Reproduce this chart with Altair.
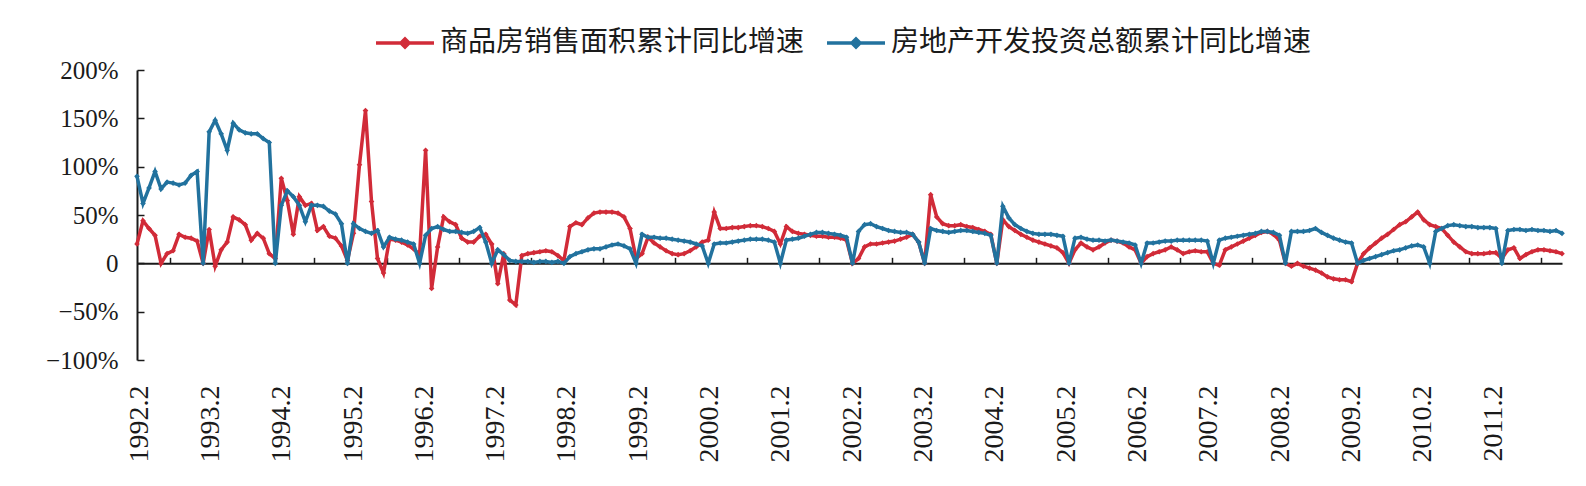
import altair as alt
import pandas as pd

tick_labels = ["1992.2", "1993.2", "1994.2", "1995.2", "1996.2", "1997.2", "1998.2",
               "1999.2", "2000.2", "2001.2", "2002.2", "2003.2", "2004.2", "2005.2",
               "2006.2", "2007.2", "2008.2", "2009.2", "2010.2", "2011.2"]
series_names = ["商品房销售面积累计同比增速", "房地产开发投资总额累计同比增速"]

# monthly values, 1992.2 ... 2011.11 (percent)
sales = [
    20, 44, 36, 29, 0, 10, 13, 30, 27, 26, 23,
    0, 35, -3, 14, 22, 48, 45, 40, 24, 31, 26, 10,
    5, 88, 65, 30, 69, 60, 62, 34, 38, 28, 26, 18,
    3, 31, 102, 158, 64, 5, -10, 25, 24, 22, 19, 15,
    9, 117, -26, 17, 48, 43, 40, 26, 22, 22, 28, 30,
    20, -21, 10, -38, -43, 8, 10, 11, 12, 13, 12, 8,
    3, 38, 42, 40, 47, 52, 53, 53, 53, 52, 48, 36,
    5, 10, 27, 21, 17, 13, 10, 9, 10, 13, 17, 22,
    24, 53, 36, 36, 37, 37, 38, 39, 39, 38, 36, 33,
    20, 38, 33, 31, 30, 29, 28, 28, 27, 27, 26, 24,
    0, 5, 17, 20, 20, 21, 22, 23, 25, 27, 30, 22,
    0, 71, 48, 41, 39, 39, 40, 38, 37, 35, 33, 30,
    0, 45, 38, 34, 30, 27, 24, 22, 20, 18, 16, 11,
    0, 14, 21, 17, 14, 17, 21, 24, 23, 21, 17, 14,
    0, 7, 10, 12, 14, 17, 14, 10, 12, 13, 12, 12,
    0, -2, 14, 17, 20, 23, 26, 29, 32, 33, 30, 24,
    0, -3, 0, -3, -5, -7, -10, -14, -16, -17, -17, -19,
    0, 10, 16, 21, 26, 30, 35, 40, 43, 48, 53, 45,
    40, 38, 36, 29, 22, 17, 12, 10, 10, 10, 11, 11,
    5, 14, 16, 5, 9, 12, 14, 14, 13, 12, 10,
]
invest = [
    90, 62, 78, 95, 77, 84, 83, 81, 83, 91, 95,
    0, 136, 148, 134, 117, 145, 138, 135, 134, 134, 129, 125,
    0, 60, 75, 69, 60, 43, 60, 60, 59, 54, 51, 41,
    0, 41, 36, 33, 31, 34, 17, 27, 25, 24, 22, 20,
    0, 29, 36, 38, 35, 33, 33, 32, 31, 33, 37, 22,
    0, 14, 9, 3, 2, 2, 2, 1, 2, 2, 1, 2,
    0, 7, 10, 12, 14, 15, 15, 17, 19, 20, 18, 15,
    0, 30, 27, 27, 26, 26, 25, 24, 23, 22, 20, 18,
    0, 20, 21, 21, 22, 23, 24, 25, 25, 25, 24, 22,
    0, 24, 25, 26, 28, 30, 32, 32, 31, 30, 29, 27,
    0, 33, 40, 41, 38, 36, 34, 33, 32, 32, 30, 22,
    0, 36, 34, 33, 32, 33, 34, 34, 33, 32, 31, 29,
    0, 59, 47, 40, 36, 33, 31, 30, 30, 30, 29, 28,
    0, 26, 27, 25, 24, 24, 23, 24, 23, 22, 21, 19,
    0, 21, 21, 22, 23, 23, 24, 24, 24, 24, 24, 23,
    0, 24, 26, 27, 28, 29, 30, 31, 33, 33, 32, 29,
    0, 33, 33, 33, 34, 36, 32, 29, 26, 24, 22, 21,
    0, 3, 5, 7, 9, 11, 13, 14, 16, 18, 19, 17,
    0, 33, 36, 39, 40, 39, 38, 38, 37, 37, 37, 36,
    0, 34, 35, 35, 34, 35, 34, 34, 33, 34, 31,
]

n = len(sales)
df = pd.DataFrame({
    "idx": list(range(n)) * 2,
    "value": sales + invest,
    "series": [series_names[0]] * n + [series_names[1]] * n,
})

W, H = 1425, 290
XDOM = [0, n - 1]
YDOM = [-100, 200]
RED = "#d12b38"
BLUE = "#22729e"
INK = "#1a1a1a"

xscale = alt.Scale(domain=XDOM, nice=False, zero=False)
yscale = alt.Scale(domain=YDOM, nice=False, zero=False)

# category labels sit slightly tighter than 12 months in the original
LABEL_STEP = 11.86
LABEL_START = 0.35
label_expr = ("[" + ",".join(f"'{t}'" for t in tick_labels) + "]"
              f"[round((datum.value-{LABEL_START})/{LABEL_STEP})]")
y_label_expr = ("datum.value == 0 ? '0' : ((datum.value < 0 ? '\u2212' + abs(datum.value) : '' + datum.value) + '%')")

x_main = alt.X("idx:Q", scale=xscale, title=None, axis=alt.Axis(
    values=[LABEL_START + LABEL_STEP * i for i in range(len(tick_labels))], labelExpr=label_expr,
    labelAngle=-90, labelAlign="right", labelBaseline="middle", labelPadding=25,
    ticks=False, domain=False, grid=False, labelFont="Liberation Serif",
    labelFontSize=28, labelColor=INK, labelOverlap=False, labelFlush=False, labelBound=False))
y_main = alt.Y("value:Q", scale=yscale, title=None, axis=alt.Axis(
    values=[-100, -50, 0, 50, 100, 150, 200], labelExpr=y_label_expr,
    ticks=False, domain=False, grid=False, labelPadding=19, labelFont="Liberation Serif",
    labelFontSize=25, labelColor=INK, labelFlush=False, labelOverlap=False))

x_none = alt.X("idx:Q", scale=xscale, axis=None)
y_none = alt.Y("value:Q", scale=yscale, axis=None)

zero_offset = -H * (YDOM[1] - 0) / (YDOM[1] - YDOM[0])
x_helper = alt.X("idx:Q", scale=xscale, title=None, axis=alt.Axis(
    orient="top", offset=zero_offset, values=[5.5 + 12 * k for k in range(20)],
    labels=False, ticks=True, tickSize=6, tickColor=INK, tickWidth=1.5,
    domain=True, domainColor=INK, domainWidth=2, grid=False))
y_helper = alt.Y("value:Q", scale=yscale, title=None, axis=alt.Axis(
    orient="right", offset=-W, values=[-100, -50, 0, 50, 100, 150, 200],
    labels=False, ticks=True, tickSize=7, tickColor=INK, tickWidth=1.5,
    domain=True, domainColor=INK, domainWidth=2, grid=False))

legend = alt.Legend(
    orient="none", legendX=237, legendY=-58, direction="horizontal", title=None,
    symbolType="M-1,0H1M0,-0.14L0.14,0L0,0.14L-0.14,0Z", symbolSize=3364,
    symbolStrokeWidth=3.5, labelFont="Noto Sans CJK SC", labelFontSize=28,
    labelColor=INK, labelOffset=4, columnPadding=15, padding=0, labelLimit=1000)

color = alt.Color("series:N", scale=alt.Scale(domain=series_names, range=[RED, BLUE]), legend=legend)

point = alt.OverlayMarkDef(shape="diamond", size=32, filled=True, opacity=1)
base = alt.Chart(df)

red = base.transform_filter(alt.datum.series == series_names[0]).mark_line(
    strokeWidth=3.5, point=point).encode(x=x_main, y=y_main, color=color)
blue = base.transform_filter(alt.datum.series == series_names[1]).mark_line(
    strokeWidth=3.5, point=point).encode(x=x_none, y=y_none, color=color)
helper = base.mark_point(opacity=0).encode(x=x_helper, y=y_helper)

chart = alt.layer(helper, red, blue).resolve_scale(x="independent", y="independent").properties(
    width=W, height=H,
    autosize=alt.AutoSizeParams(type="none"),
    padding={"left": 137, "top": 70, "right": 24, "bottom": 126},
    background="white",
).configure_view(stroke=None)

chart.save("out.html", embed_options={"renderer": "svg", "actions": False})
